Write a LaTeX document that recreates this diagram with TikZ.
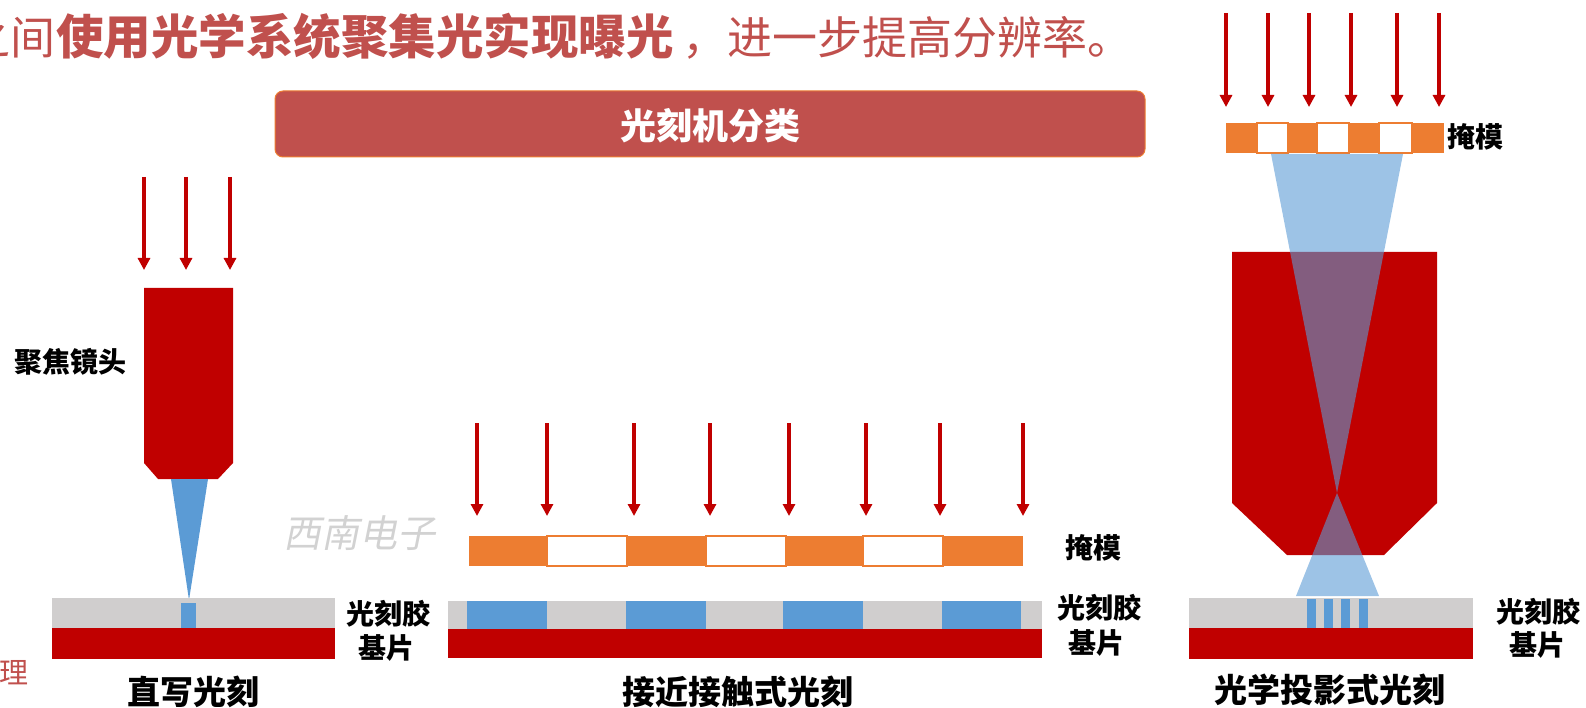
\documentclass[tikz,border=0pt]{standalone}
\usepackage{fontspec}
\newfontfamily\cjk{Noto Sans CJK SC}
\newfontfamily\cjkslant{Noto Sans CJK SC}[FakeSlant=0.2]
\usetikzlibrary{arrows.meta}

\definecolor{headred}{HTML}{C0504D}
\definecolor{lensred}{HTML}{C00000}
\definecolor{maskorange}{HTML}{ED7D31}
\definecolor{resistgray}{HTML}{D0CECE}
\definecolor{exposeblue}{HTML}{5B9BD5}

\tikzset{
  ray/.style={lensred, line width=3.3pt, -{Triangle[width=12pt,length=12pt]}},
  tag/.style={inner sep=0pt, font=\cjk\bfseries\fontsize{28}{28}\selectfont},
  caption/.style={inner sep=0pt, font=\cjk\bfseries\fontsize{33}{33}\selectfont},
  hole/.style={fill=white, draw=maskorange, line width=1.5pt},
}

\begin{document}
\begin{tikzpicture}[x=1pt, y=-1pt]
  \useasboundingbox (0,0) rectangle (1586,708);

  % heading line
  \node[anchor=base east, inner sep=0pt, headred, font=\cjk\fontsize{45}{45}\selectfont] (headA) at (56,55) {之间};
  \node[anchor=base west, inner sep=0pt, headred, font=\cjk\bfseries\fontsize{47.5}{47.5}\selectfont] (headB) at (56,55) {使用光学系统聚集光实现曝光};
  \node[anchor=base west, inner sep=0pt, headred, font=\cjk\fontsize{45}{45}\selectfont] (headC) at (682,55) {，进一步提高分辨率。};
  \node[anchor=base east, inner sep=0pt, headred, font=\cjk\fontsize{29}{29}\selectfont] (headD) at (29,683) {理};

  % banner
  \draw[fill=headred, draw=maskorange, line width=1pt, rounded corners=8pt] (275,91) rectangle (1145,157);
  \node[inner sep=0pt, white, font=\cjk\bfseries\fontsize{36}{36}\selectfont] (banner) at (710,126) {光刻机分类};

  % ---- direct writing ----
  \foreach \x in {144,186,230}
    \draw[ray] (\x,177) -- (\x,270);
  \fill[lensred] (144,288) -- (233,288) -- (233,463) -- (218,479) -- (158,479) -- (144,463) -- cycle;
  \fill[exposeblue] (171,479) -- (208,479) -- (189,600) -- cycle;
  \fill[resistgray] (52,598) rectangle (335,628);
  \fill[lensred] (52,628) rectangle (335,659);
  \fill[exposeblue] (181,603) rectangle (196,628);

  \node[tag, anchor=east] (focusA) at (127,362) {聚焦镜头};
  \node[tag] (resistA) at (388,614) {光刻胶};
  \node[tag] (baseA) at (386,648) {基片};
  \node[caption] (capA) at (193,692) {直写光刻};
  \node[inner sep=0pt, gray!35, font=\cjkslant\fontsize{38}{38}\selectfont] (mark) at (359,533) {西南电子};

  % ---- proximity / contact ----
  \foreach \x in {477,547,634,710,789,866,940,1023}
    \draw[ray] (\x,423) -- (\x,516);
  \fill[maskorange] (469,536) rectangle (1023,566);
  \foreach \a/\b in {547/627,706/786,863/943}
    \draw[hole] (\a,536) rectangle (\b,566);
  \fill[resistgray] (448,601) rectangle (1042,629);
  \fill[lensred] (448,629) rectangle (1042,658);
  \foreach \a/\b in {467/547,626/706,783/863,942/1021}
    \fill[exposeblue] (\a,601) rectangle (\b,629);

  \node[tag] (maskB) at (1093,548) {掩模};
  \node[tag] (resistB) at (1099,608) {光刻胶};
  \node[tag] (baseB) at (1096,643) {基片};
  \node[caption] (capB) at (738,692) {接近接触式光刻};

  % ---- projection ----
  \foreach \x in {1226,1268,1309,1351,1397,1439}
    \draw[ray] (\x,13) -- (\x,107);
  \fill[maskorange] (1226,123) rectangle (1444,153);
  \foreach \a/\b in {1257/1288,1317/1349,1379/1412}
    \draw[hole] (\a,123) rectangle (\b,153);
  \fill[lensred] (1232,252) -- (1437,252) -- (1437,503) -- (1384,555) -- (1287,555) -- (1232,503) -- cycle;
  \coordinate (focus) at (1337,493);
  \fill[exposeblue, opacity=0.6] (1271,154) -- (1403,154) -- (focus) -- cycle;
  \fill[exposeblue, opacity=0.6] (focus) -- (1379,596) -- (1296,596) -- cycle;
  \fill[resistgray] (1189,598) rectangle (1473,628);
  \fill[lensred] (1189,628) rectangle (1473,659);
  \foreach \a in {1307,1324,1341,1359}
    \fill[exposeblue] (\a,599) rectangle ++(8.5,29);

  \node[tag, anchor=west] (maskC) at (1447,137) {掩模};
  \node[tag] (resistC) at (1538,612) {光刻胶};
  \node[tag] (baseC) at (1537,645) {基片};
  \node[caption] (capC) at (1330,690) {光学投影式光刻};
\end{tikzpicture}
\end{document}
